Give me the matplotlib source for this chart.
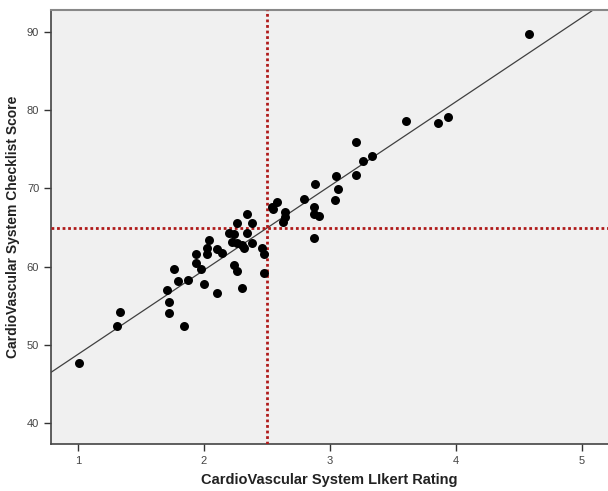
import numpy as np
import matplotlib.pyplot as plt

# Likert rating vs checklist score
likert = [1.01, 1.31, 1.33, 1.71, 1.72, 1.72, 1.76, 1.79, 1.87, 1.84,
          1.94, 1.94, 1.98, 2.00, 2.02, 2.02, 2.04, 2.10, 2.14, 2.10,
          2.20, 2.24, 2.22, 2.26, 2.30, 2.32, 2.26, 2.34, 2.38, 2.34,
          2.38, 2.24, 2.26, 2.30, 2.46, 2.48, 2.48, 2.54, 2.55, 2.58,
          2.64, 2.64, 2.63, 2.79, 2.87, 2.87, 2.91, 2.87, 2.88, 3.05,
          3.04, 3.06, 3.21, 3.21, 3.26, 3.33, 3.60, 3.86, 3.94, 4.58]
checklist = [47.7, 52.4, 54.2, 57.0, 55.5, 54.1, 59.7, 58.2, 58.3, 52.4,
             61.6, 60.5, 59.7, 57.8, 62.4, 61.6, 63.4, 62.2, 61.7, 56.6,
             64.3, 64.2, 63.1, 63.0, 62.8, 62.4, 65.6, 66.7, 65.6, 64.3,
             63.0, 60.2, 59.4, 57.3, 62.4, 61.6, 59.2, 67.6, 67.4, 68.3,
             67.0, 66.3, 65.7, 68.6, 67.6, 66.7, 66.5, 63.7, 70.6, 71.6,
             68.5, 69.9, 71.7, 75.9, 73.5, 74.1, 78.6, 78.4, 79.1, 89.7]

likert_cut = 2.5
score_cut = 64.9
fit_intercept = 38.0
fit_slope = 10.77

plt.rcParams['font.family'] = ['Liberation Sans', 'DejaVu Sans']

fig = plt.figure(figsize=(6.08, 4.91), dpi=100)
ax = fig.add_axes([0.0839, 0.0957, 0.9161, 0.8839])
ax.set_facecolor('#F0F0F0')

ax.set_xlim(0.786, 5.206)
ax.set_ylim(37.3, 92.8)

ax.axline((0, fit_intercept), slope=fit_slope, color='#404040', lw=0.9, zorder=2)
ax.axvline(likert_cut, color='#B01A1A', lw=2.0, ls=(0, (1, 1)), zorder=3)
ax.axhline(score_cut, color='#B01A1A', lw=2.0, ls=(0, (1, 1)), zorder=3)
ax.scatter(likert, checklist, s=42, color='black', zorder=4, linewidths=0)

ax.set_xticks([1, 2, 3, 4, 5])
ax.set_yticks([40, 50, 60, 70, 80, 90])
ax.tick_params(direction='out', length=5, width=1, color='#333333',
               labelsize=8, labelcolor='#444444')

for side in ['left', 'bottom']:
    ax.spines[side].set_color('#444444')
    ax.spines[side].set_linewidth(1.2)
ax.spines['top'].set_color('#888888')
ax.spines['top'].set_linewidth(1.5)
ax.spines['right'].set_visible(False)

ax.set_xlabel('CardioVascular System LIkert Rating', fontsize=10.5,
              fontweight='bold', color='#222222', labelpad=5)
ax.set_ylabel('CardioVascular System Checklist Score', fontsize=10,
              fontweight='bold', color='#222222', labelpad=5)

fig.savefig('out.png', dpi=100)
